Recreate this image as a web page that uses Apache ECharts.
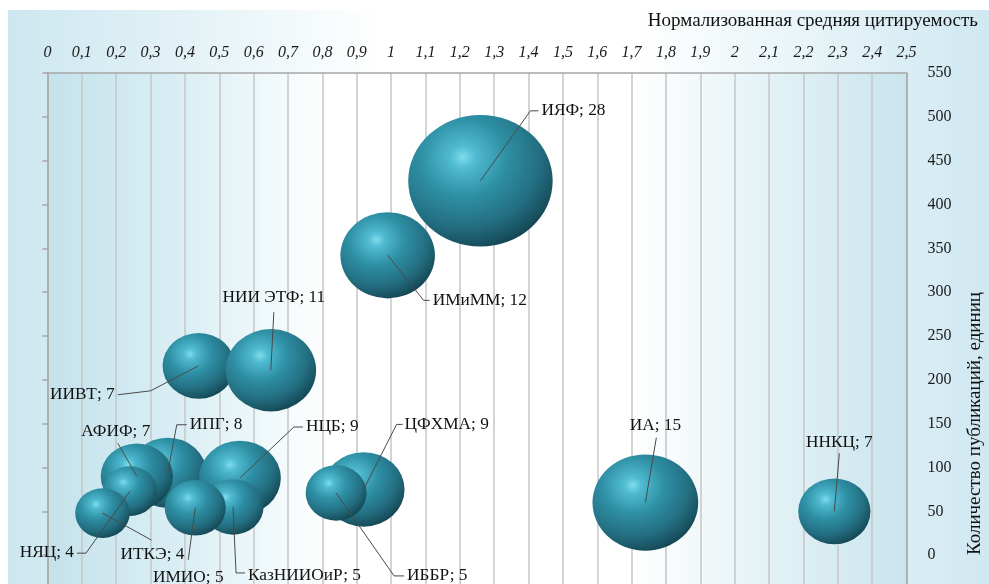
<!DOCTYPE html>
<html>
<head>
<meta charset="utf-8">
<script src="https://cdn.jsdelivr.net/npm/echarts@6/dist/echarts.min.js"></script>
<style>
  html, body { margin: 0; padding: 0; background: #fff; overflow: hidden; }
  /* canvas runs a little past the window so the axis continues below 0 like the source */
  #chart { width: 989px; height: 600px; }
</style>
</head>
<body>
<div id="chart"></div>
<script>
// organisations, back to front (later ones are drawn on top)
const names = ['ИЯФ', 'ИМиММ', 'ИА', 'ННКЦ', 'ИИВТ', 'НИИ ЭТФ', 'ИПГ', 'НЦБ', 'АФИФ', 'НЯЦ', 'ИТКЭ', 'КазНИИОиР', 'ИМИО', 'ЦФХМА', 'ИББР']
// normalized average citation (x)
const citation = [1.26, 0.99, 1.74, 2.29, 0.44, 0.65, 0.35, 0.56, 0.26, 0.24, 0.16, 0.54, 0.43, 0.92, 0.84]
// number of publications (y)
const publications = [427, 342, 60, 50, 216, 211, 94, 88, 90, 73, 48, 55, 54, 75, 71]
// bubble size value shown in the label
const bubbleSize = [28, 12, 15, 7, 7, 11, 8, 9, 7, 4, 4, 5, 5, 9, 5]

// callout layout in px relative to bubble centre: elbow x,y / end x,y / text x,y / align
const labelLayout = [
  [50, -70, 58, -70, 61, -70, 'left'],
  [36, 45, 42, 45, 45, 45, 'left'],
  [11, -65, 11, -65, 10, -77, 'center'],
  [5, -58, 5, -58, 5, -69, 'center'],
  [-48, 25, -81, 29, -84, 29, 'right'],
  [3, -58, 3, -58, 3, -72, 'center'],
  [9, -48, 19, -48, 22, -48, 'left'],
  [54, -51, 63, -51, 66, -51, 'left'],
  [-19, -33, -19, -33, -21, -44, 'center'],
  [-44, 62, -53, 62, -56, 62, 'right'],
  [49, 27, 49, 27, 50, 42, 'center'],
  [3, 66, 12, 66, 15, 69, 'left'],
  [-7, 52, -7, 52, -7, 70, 'center'],
  [33, -65, 39, -65, 41, -65, 'left'],
  [58, 83, 68, 83, 71, 83, 'left']
]

const points = citation.map((x, i) => [x, publications[i], bubbleSize[i], names[i]])

const serif = '"Liberation Serif", "Times New Roman", serif'
const axisGray = '#a6a6a6'

const sphere = new echarts.graphic.RadialGradient(0.38, 0.32, 0.75, [
  { offset: 0, color: '#7fdcec' },
  { offset: 0.12, color: '#4fbad0' },
  { offset: 0.4, color: '#2e8fa4' },
  { offset: 0.7, color: '#246f82' },
  { offset: 0.9, color: '#17505e' },
  { offset: 1, color: '#0e3a45' }
])

function renderLabel(params, api) {
  const i = params.dataIndex
  const c = api.coord([api.value(0), api.value(1)])
  const L = labelLayout[i]
  return {
    type: 'group',
    children: [
      {
        type: 'polyline',
        shape: { points: [c, [c[0] + L[0], c[1] + L[1]], [c[0] + L[2], c[1] + L[3]]] },
        style: { stroke: '#4a4a4a', lineWidth: 1, fill: 'none' }
      },
      {
        type: 'text',
        x: c[0] + L[4],
        y: c[1] + L[5],
        scaleX: 1.08,
        style: {
          text: names[i] + '; ' + bubbleSize[i],
          font: '16px ' + serif,
          fill: '#111',
          align: L[6],
          verticalAlign: 'middle'
        }
      }
    ]
  }
}

const chart = echarts.init(document.getElementById('chart'))

chart.setOption({
  animation: false,
  graphic: [
    {
      type: 'rect',
      z: -1,
      shape: { x: 8, y: 10, width: 981, height: 590 },
      style: {
        fill: new echarts.graphic.LinearGradient(0, 0, 1, 0, [
          { offset: 0, color: '#cde7f0' },
          { offset: 0.15, color: '#dff0f5' },
          { offset: 0.38, color: '#ffffff' },
          { offset: 0.64, color: '#ffffff' },
          { offset: 0.85, color: '#e3f2f7' },
          { offset: 1, color: '#d0e8f1' }
        ])
      }
    },
    {
      type: 'text',
      right: 11,
      top: 12,
      z: 100,
      style: { text: 'Нормализованная средняя цитируемость', font: '19px ' + serif, fill: '#111' }
    },
    {
      type: 'text',
      x: 975,
      y: 292,
      rotation: Math.PI / 2,
      z: 100,
      style: {
        text: 'Количество публикаций, единиц',
        font: '19px ' + serif,
        fill: '#111',
        align: 'right',
        verticalAlign: 'middle'
      }
    }
  ],
  grid: {
    left: 47.5,
    right: 82.5,
    top: 73,
    bottom: 1,
    show: true,
    borderWidth: 0,
    backgroundColor: new echarts.graphic.LinearGradient(0, 0, 1, 0, [
      { offset: 0, color: '#c4e2eb' },
      { offset: 0.15, color: '#d9eef4' },
      { offset: 0.33, color: '#ffffff' },
      { offset: 0.68, color: '#ffffff' },
      { offset: 0.86, color: '#e0f0f5' },
      { offset: 1, color: '#c9e5ee' }
    ])
  },
  xAxis: {
    type: 'value',
    position: 'top',
    min: 0,
    max: 2.5,
    interval: 0.1,
    axisLine: { show: true, onZero: false, lineStyle: { color: axisGray, width: 1.5 } },
    axisTick: { show: false },
    splitLine: { show: true, lineStyle: { color: '#c6c6c6', width: 1.5 } },
    axisLabel: {
      margin: 12,
      fontFamily: serif,
      fontStyle: 'italic',
      fontSize: 16,
      color: '#1a1a1a',
      showMaxLabel: true,
      formatter: v => String(Number(v.toFixed(1))).replace('.', ',')
    }
  },
  yAxis: [
    {
      type: 'value',
      position: 'right',
      min: -50,
      max: 550,
      interval: 50,
      axisLine: { show: true, onZero: false, lineStyle: { color: axisGray, width: 1.5 } },
      axisTick: { show: false },
      splitLine: { show: false },
      axisLabel: {
        margin: 21,
        fontFamily: serif,
        fontSize: 16,
        color: '#1a1a1a',
        formatter: v => (v < 0 ? '' : String(v))
      }
    },
    {
      type: 'value',
      position: 'left',
      min: -50,
      max: 550,
      interval: 50,
      axisLine: { show: true, onZero: false, lineStyle: { color: axisGray, width: 1.5 } },
      axisTick: { show: true, length: 5, lineStyle: { color: axisGray, width: 1.5 } },
      splitLine: { show: false },
      axisLabel: { show: false }
    }
  ],
  series: [
    {
      type: 'scatter',
      data: points,
      symbolSize: val => {
        const w = 27.3 * Math.sqrt(val[2])
        return [w, w * 0.91]
      },
      itemStyle: { color: sphere, opacity: 1 },
      emphasis: { disabled: true }
    },
    {
      type: 'custom',
      data: points,
      z: 5,
      clip: false,
      renderItem: renderLabel,
      silent: true
    }
  ]
})
</script>
</body>
</html>
